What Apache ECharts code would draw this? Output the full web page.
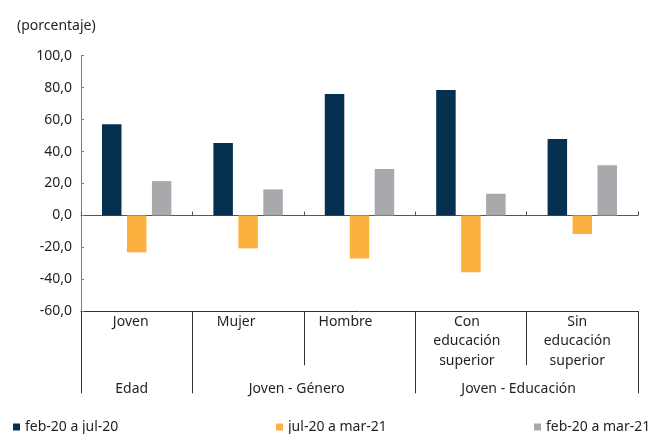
<!DOCTYPE html>
<html>
<head>
<meta charset="utf-8">
<script src="https://cdn.jsdelivr.net/npm/echarts@6/dist/echarts.min.js"></script>
<style>
  html, body { margin: 0; padding: 0; background: #fff; }
  #chart { width: 651px; height: 434px; }
</style>
</head>
<body>
<div id="chart"></div>
<script>
// Categories shown under the zero line and the groups they belong to
const categories = ['Joven', 'Mujer', 'Hombre', 'Con\neducación\nsuperior', 'Sin\neducación\nsuperior'];
const groups = ['Edad', 'Joven - Género', 'Joven - Educación'];
const groupSpans = [[0, 0], [1, 2], [3, 4]];

// Series (percentage change)
const seriesNames = ['feb-20 a jul-20', 'jul-20 a mar-21', 'feb-20 a mar-21'];
const febJul = [57.1, 45.4, 76.1, 78.6, 47.9];
const julMar = [-23.1, -20.6, -26.9, -35.6, -11.6];
const febMar = [21.5, 16.3, 29.0, 13.6, 31.5];

// Value axis
const yMin = -60, yMax = 100, yStep = 20;

const FONT = 'Noto Sans';
const TEXT = '#231f20';
const colors = ['#06304f', '#fbb040', '#a7a9ac'];

// Small horizontal nudges for the category label text
const labelShift = [-6, -12, -14, -4, -5];
const groupShift = [-5, -7, -8];

const chart = echarts.init(document.getElementById('chart'), null, { renderer: 'canvas' });

const richStyles = {};
labelShift.forEach(function (d, i) {
  richStyles['c' + i] = {
    fontFamily: FONT, fontSize: 14, color: TEXT, lineHeight: 19.3,
    padding: d < 0 ? [0, -2 * d, 0, 0] : [0, 0, 0, 2 * d]
  };
});

function fmt(v) { return v.toFixed(1).replace('.', ','); }

function bar(name, data, color) {
  return {
    name: name, type: 'bar', data: data, xAxisIndex: 0,
    barWidth: 19.5, barGap: '28%',
    itemStyle: { color: color },
    emphasis: { disabled: true }
  };
}

const option = {
  animation: false,
  textStyle: { fontFamily: FONT },
  grid: { left: 81, right: 13, top: 55.7, bottom: 122.7, containLabel: false },
  title: {
    text: '(porcentaje)', left: 12, top: 14,
    textStyle: { fontFamily: FONT, fontSize: 14, fontWeight: 'normal', color: TEXT }
  },
  legend: [0, 1, 2].map(function (i) {
    return {
      data: [seriesNames[i]], left: [13, 276, 534][i], top: 420, padding: 0,
      icon: 'rect', itemWidth: 7, itemHeight: 7,
      textStyle: { fontFamily: FONT, fontSize: 14, color: TEXT, lineHeight: 14 },
      selectedMode: false
    };
  }),
  xAxis: [
    {
      // axis drawn at zero with short inward ticks
      type: 'category', data: categories, position: 'bottom',
      axisLine: { show: true, onZero: true, lineStyle: { color: '#555', width: 1 } },
      axisTick: { show: true, inside: true, length: 4, lineStyle: { color: '#555' } },
      axisLabel: { show: false }
    },
    {
      // category table row at the bottom
      type: 'category', data: categories, position: 'bottom',
      axisLine: { show: true, onZero: false, lineStyle: { color: '#333', width: 1 } },
      axisTick: { show: true, inside: false, length: 54, lineStyle: { color: '#333' } },
      axisLabel: {
        margin: 1, verticalAlign: 'top', interval: 0,
        formatter: function (v, i) {
          return v.split('\n').map(function (s) { return '{c' + i + '|' + s + '}'; }).join('\n');
        },
        rich: richStyles
      }
    },
    {
      // group separators
      type: 'category', data: categories, position: 'bottom',
      axisLine: { show: false, onZero: false },
      axisTick: {
        show: true, inside: false, length: 82, lineStyle: { color: '#333' },
        interval: function (i) { return groupSpans.some(function (g) { return g[0] === i; }); }
      },
      axisLabel: { show: false }
    }
  ],
  yAxis: {
    type: 'value', min: yMin, max: yMax, interval: yStep,
    axisLine: { show: true, lineStyle: { color: '#808080' } },
    axisTick: { show: true, inside: true, length: 3, lineStyle: { color: '#808080' } },
    splitLine: { show: false },
    axisLabel: {
      margin: 9, fontFamily: FONT, fontSize: 14, color: TEXT,
      formatter: fmt
    }
  },
  series: [
    bar(seriesNames[0], febJul, colors[0]),
    bar(seriesNames[1], julMar, colors[1]),
    bar(seriesNames[2], febMar, colors[2])
  ]
};

chart.setOption(option);

// Group captions centred under their categories
const groupY = chart.convertToPixel({ yAxisIndex: 0 }, yMin) + 78;
chart.setOption({
  graphic: groups.map(function (g, i) {
    const a = chart.convertToPixel({ xAxisIndex: 0 }, groupSpans[i][0]);
    const b = chart.convertToPixel({ xAxisIndex: 0 }, groupSpans[i][1]);
    return {
      type: 'text', x: (a + b) / 2 + groupShift[i], y: groupY,
      style: {
        text: g, fontFamily: FONT, fontSize: 14, fill: TEXT,
        textAlign: 'center', textVerticalAlign: 'middle'
      }
    };
  })
});
</script>
</body>
</html>
